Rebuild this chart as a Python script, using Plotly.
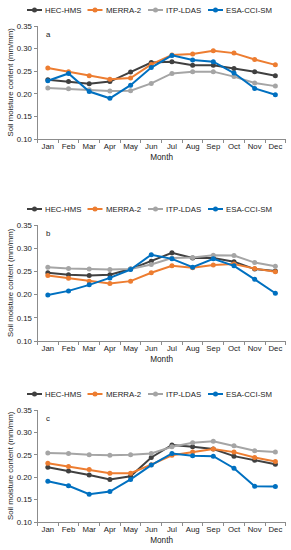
import plotly.graph_objects as go

W, H = 291, 550

months = ["Jan", "Feb", "Mar", "Apr", "May", "Jun", "Jul", "Aug", "Sep", "Oct", "Nov", "Dec"]
series_names = ["HEC-HMS", "MERRA-2", "ITP-LDAS", "ESA-CCI-SM"]
panel_labels = ["a", "b", "c"]

# Panel a
a_hec = [0.231, 0.227, 0.222, 0.227, 0.248, 0.269, 0.271, 0.263, 0.263, 0.256, 0.249, 0.240]
a_merra = [0.257, 0.249, 0.240, 0.232, 0.235, 0.265, 0.286, 0.288, 0.295, 0.290, 0.276, 0.264]
a_itp = [0.213, 0.211, 0.209, 0.206, 0.207, 0.223, 0.245, 0.249, 0.249, 0.238, 0.224, 0.217]
a_esa = [0.229, 0.245, 0.205, 0.190, 0.219, 0.258, 0.285, 0.275, 0.271, 0.246, 0.212, 0.198]

# Panel b
b_hec = [0.247, 0.243, 0.241, 0.243, 0.255, 0.272, 0.290, 0.279, 0.279, 0.271, 0.255, 0.251]
b_merra = [0.241, 0.235, 0.229, 0.224, 0.229, 0.247, 0.262, 0.258, 0.264, 0.266, 0.256, 0.249]
b_itp = [0.259, 0.256, 0.255, 0.254, 0.255, 0.265, 0.279, 0.280, 0.285, 0.284, 0.269, 0.261]
b_esa = [0.199, 0.208, 0.221, 0.236, 0.254, 0.286, 0.277, 0.259, 0.277, 0.262, 0.233, 0.203]

# Panel c
c_hec = [0.222, 0.214, 0.205, 0.195, 0.202, 0.244, 0.272, 0.268, 0.263, 0.247, 0.238, 0.229]
c_merra = [0.231, 0.224, 0.217, 0.209, 0.209, 0.228, 0.249, 0.256, 0.263, 0.256, 0.244, 0.235]
c_itp = [0.254, 0.253, 0.250, 0.249, 0.250, 0.253, 0.268, 0.277, 0.280, 0.270, 0.259, 0.256]
c_esa = [0.191, 0.181, 0.162, 0.168, 0.195, 0.227, 0.253, 0.248, 0.247, 0.220, 0.180, 0.179]

panels = [
    [a_hec, a_merra, a_itp, a_esa],
    [b_hec, b_merra, b_itp, b_esa],
    [c_hec, c_merra, c_itp, c_esa],
]

y_ticks = [0.10, 0.15, 0.20, 0.25, 0.30, 0.35]
y_title = "Soil moisture content (mm/mm)"
x_title = "Month"

colors = ["#404040", "#ED7D31", "#A5A5A5", "#0070C0"]
FONT = "Liberation Sans, Arial, sans-serif"
FS = 7.8
TXT = "#1a1a1a"
AXC = "#8c8c8c"

# pixel layout of each plot area (top, bottom), and legend centre
plot_px = [(26, 139), (225, 341), (410, 522)]
legend_py = [10, 209, 394]
legend_px = [27, 87.5, 148, 208]


def px2x(px):
    return px / W


def py2y(py):
    return 1 - py / H


x_dom = [px2x(37.5), px2x(285.7)]

fig = go.Figure()

for p, data in enumerate(panels):
    sfx = "" if p == 0 else str(p + 1)
    for i, vals in enumerate(data):
        fig.add_trace(go.Scatter(
            x=months, y=vals, mode="lines+markers", name=series_names[i],
            line=dict(color=colors[i], width=2),
            marker=dict(color=colors[i], size=5, symbol="circle"),
            xaxis="x" + sfx, yaxis="y" + sfx, showlegend=False,
        ))
    top, bot = plot_px[p]
    fig.layout["xaxis" + sfx] = dict(
        domain=x_dom, anchor="y" + sfx, type="category",
        tickson="boundaries", ticks="outside", ticklen=3, tickcolor=AXC,
        showline=True, linecolor=AXC, linewidth=1, showgrid=False, zeroline=False,
        tickangle=0, automargin=False,
        tickfont=dict(family=FONT, size=FS, color=TXT),
        title=dict(text=x_title, font=dict(family=FONT, size=FS + 0.4, color=TXT), standoff=3),
        range=[-0.5, 11.5],
    )
    fig.layout["yaxis" + sfx] = dict(
        domain=[py2y(bot), py2y(top)], anchor="x" + sfx,
        range=[0.10, 0.35], tickvals=y_ticks, tickformat=".2f",
        ticks="outside", ticklen=3, tickcolor=AXC, automargin=False,
        showline=True, linecolor=AXC, linewidth=1, showgrid=False, zeroline=False,
        tickfont=dict(family=FONT, size=FS, color=TXT),
    )
    # y-axis title
    fig.add_annotation(
        text=y_title, xref="paper", yref="y" + sfx + " domain",
        x=px2x(10), y=0.5, xanchor="center", yanchor="middle", textangle=-90,
        showarrow=False, font=dict(family=FONT, size=FS, color=TXT),
    )
    fig.add_annotation(
        text=panel_labels[p], xref="x" + sfx + " domain", yref="y" + sfx + " domain",
        x=0.025, y=0.985, xanchor="left", yanchor="top", showarrow=False,
        font=dict(family=FONT, size=FS, color=TXT),
    )
    # legend row
    ly = py2y(legend_py[p])
    for i in range(4):
        x0 = legend_px[i]
        fig.add_shape(type="line", xref="paper", yref="paper",
                      x0=px2x(x0), x1=px2x(x0 + 15), y0=ly, y1=ly,
                      line=dict(color=colors[i], width=2))
        fig.add_shape(type="circle", xref="paper", yref="paper",
                      xsizemode="pixel", ysizemode="pixel",
                      xanchor=px2x(x0 + 7.5), yanchor=ly,
                      x0=-2.5, x1=2.5, y0=-2.5, y1=2.5,
                      fillcolor=colors[i], line=dict(color=colors[i], width=0))
        fig.add_annotation(text=series_names[i], xref="paper", yref="paper",
                           x=px2x(x0 + 16), y=ly, xanchor="left", yanchor="middle",
                           showarrow=False, font=dict(family=FONT, size=FS, color=TXT))

fig.update_layout(
    width=W, height=H, margin=dict(l=0, r=0, t=0, b=0),
    paper_bgcolor="white", plot_bgcolor="white", showlegend=False,
    font=dict(family=FONT, size=FS, color=TXT),
)

fig.write_html(
    "out.html",
    config={"displayModeBar": False},
    post_script="document.body.style.margin='0';document.body.style.overflow='hidden';",
)
